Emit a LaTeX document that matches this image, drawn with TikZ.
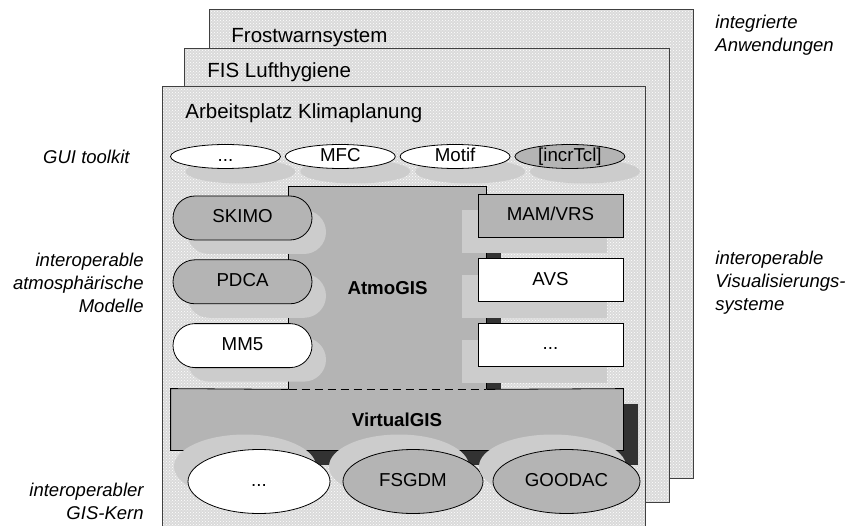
\documentclass[tikz,border=0pt]{standalone}
\usepackage{fontspec}
\setmainfont{Liberation Sans}
\usetikzlibrary{positioning,shapes.geometric,shapes.misc,shadows,patterns}
\definecolor{panelgray}{RGB}{218,218,218}
\definecolor{modgray}{RGB}{180,180,180}
\definecolor{lightshade}{RGB}{204,204,204}
\definecolor{darkshade}{RGB}{50,50,50}
\newcommand{\modfont}{\fontsize{18.7}{22}\selectfont}
\newcommand{\titlefont}{\fontsize{20.5}{24}\selectfont}
\newcommand{\sidefont}{\fontsize{18.5}{23}\selectfont\itshape}

\begin{document}
\begin{tikzpicture}[x=1pt,y=1pt,line width=0.8pt,font=\modfont,
    panel/.style={draw=black!75,preaction={fill=panelgray},pattern=crosshatch dots,pattern color=white},
    paneltitle/.style={anchor=west,inner sep=0pt,font=\titlefont},
    sidelabel/.style={inner sep=0pt,font=\sidefont},
    modtext/.style={text height=13.5pt,text depth=3.8pt},
    every label/.style={modtext,inner sep=0pt},
    guiell/.style={ellipse,draw,inner sep=0pt,minimum width=110pt,minimum height=24pt,
      general shadow={fill=lightshade,shadow xshift=15pt,shadow yshift=-15pt}},
    pill/.style={rounded rectangle,draw,modtext,inner sep=0pt,minimum width=139pt,minimum height=44pt,
      general shadow={fill=lightshade,shadow xshift=14pt,shadow yshift=-14pt}},
    visbox/.style={rectangle,draw,modtext,inner sep=0pt,minimum width=145pt,minimum height=43pt,
      general shadow={fill=lightshade,shadow xshift=-16pt,shadow yshift=-16pt}},
    kernell/.style={ellipse,draw,inner sep=0pt,minimum height=64pt,
      general shadow={fill=lightshade,shadow xshift=-14pt,shadow yshift=15pt}},
    layer/.style={rectangle,fill=modgray,inner sep=0pt,font=\modfont\bfseries,
      general shadow={fill=darkshade,shadow xshift=15pt,shadow yshift=-15pt}}]
  \useasboundingbox (0,0) rectangle (853,-526);

  % stacked application panels
  \draw[panel] (209,-9) rectangle (693,-478);
  \node[paneltitle] (frost) at (231,-38) {Frostwarnsystem};
  \draw[panel] (184,-48) rectangle (669,-502);
  \node[paneltitle] (fis) at (207,-72) {FIS Lufthygiene};
  \draw[panel] (162,-86) rectangle (645,-528);
  \node[paneltitle] (klima) at (185,-113) {Arbeitsplatz Klimaplanung};

  % side labels
  \node[sidelabel,anchor=west,align=left] (anw) at (715,-35) {integrierte\\Anwendungen};
  \node[sidelabel,anchor=east] (gui) at (130,-157) {GUI toolkit};
  \node[sidelabel,anchor=east,align=right] (atm) at (144,-283) {interoperable\\atmosphärische\\Modelle};
  \node[sidelabel,anchor=west,align=left] (vis) at (715,-283) {interoperable\\Visualisierungs-\\systeme};
  \node[sidelabel,anchor=east,align=right] (kern) at (144,-501) {interoperabler\\GIS-Kern};

  % GUI toolkit row
  \node[guiell,fill=white,label=center:...] (guidots) at (225.5,-156.5) {};
  \node[guiell,fill=white,label=center:MFC,right=4pt of guidots] (mfc) {};
  \node[guiell,fill=white,label=center:Motif,right=4pt of mfc] (motif) {};
  \node[guiell,fill=modgray,label=center:{[incrTcl]},right=4pt of motif] (incrtcl) {};

  % AtmoGIS and VirtualGIS layers
  \node[layer,minimum width=197pt,minimum height=202pt] (atmo) at (387.5,-288) {AtmoGIS};
  \node[layer,minimum width=452pt,minimum height=61pt] (vgis) at (397,-419.5) {VirtualGIS};
  \draw (atmo.south west) -- (atmo.north west) -- (atmo.north east) -- (atmo.south east);
  \draw[dash pattern=on 8pt off 5pt] (atmo.south west) -- (atmo.south east);
  \draw (atmo.south west) -- (vgis.north west) -- (vgis.south west) -- (vgis.south east)
    -- (vgis.north east) -- (atmo.south east);

  % atmospheric models
  \node[pill,fill=modgray] (skimo) at (242.5,-218) {SKIMO};
  \node[pill,fill=modgray,below=19pt of skimo] (pdca) {PDCA};
  \node[pill,fill=white,below=19pt of pdca] (mm5) {MM5};

  % visualisation systems
  \node[visbox,fill=modgray] (mamvrs) at (550.5,-215.5) {MAM/VRS};
  \node[visbox,fill=white,below=21pt of mamvrs] (avs) {AVS};
  \node[visbox,fill=white,below=21pt of avs] (visdots) {...};

  % GIS kernels
  \node[kernell,fill=white,minimum width=142pt,label=center:...] (kerndots) at (259,-481.5) {};
  \node[kernell,fill=modgray,minimum width=140pt,label=center:FSGDM] (fsgdm) at (413,-481.5) {};
  \node[kernell,fill=modgray,minimum width=147pt,label=center:GOODAC] (goodac) at (566.5,-481.5) {};
\end{tikzpicture}
\end{document}
